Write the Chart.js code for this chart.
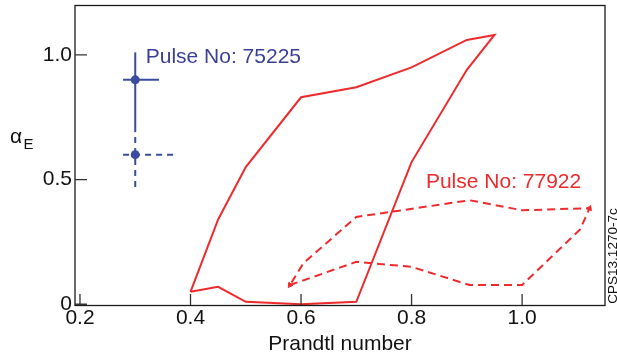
<!DOCTYPE html>
<html><head><meta charset="utf-8">
<script src="https://cdn.jsdelivr.net/npm/chart.js@4"></script>
<style>html,body{margin:0;padding:0;background:#fff;overflow:hidden}</style>
</head><body>
<canvas id="c" width="617" height="363"></canvas>
<script>
// ---- data ----
const xTicks = [0.2, 0.4, 0.6, 0.8, 1.0];
const yTicks = [0, 0.5, 1.0];
// Pulse No: 77922, solid loop
const solidX = [0.40, 0.45, 0.50, 0.60, 0.70, 0.80, 0.90, 0.95, 0.90, 0.80, 0.70, 0.60, 0.50, 0.45, 0.40];
const solidY = [0.05, 0.07, 0.01, 0.00, 0.01, 0.57, 0.94, 1.08, 1.06, 0.95, 0.87, 0.83, 0.55, 0.34, 0.05];
// Pulse No: 77922, dashed loop
const dashedX = [0.58, 0.70, 0.80, 0.905, 1.00, 1.105, 1.122, 1.00, 0.905, 0.70, 0.604, 0.58];
const dashedY = [0.077, 0.17, 0.15, 0.077, 0.077, 0.30, 0.385, 0.377, 0.417, 0.35, 0.164, 0.077];
// Pulse No: 75225, points with error bars (solid, dashed)
const blueX = [0.3, 0.3];
const blueY = [0.9, 0.6];
const blueXLow = [0.278, 0.278];
const blueXHigh = [0.343, 0.374];
const blueYLow = [0.69, 0.47];
const blueYHigh = [1.01, 0.685];

const RED = '#ee2a2d';
const BLUE = '#3a4c9e';
const FONT = '"Liberation Sans", Arial, Helvetica, sans-serif';

const pts = (xs, ys) => xs.map((x, i) => ({x, y: ys[i]}));
const lineDs = (data, color, dash, extra) => Object.assign({
  data, showLine: true, borderColor: color, backgroundColor: color,
  borderWidth: 2, borderDash: dash, pointRadius: 0, tension: 0, clip: false
}, extra || {});

const datasets = [];
datasets.push(lineDs(pts(solidX, solidY), RED, []));
const arrowR = dashedX.map((_, i) => (i === 6 || i === dashedX.length - 1) ? 3 : 0);
const arrowRot = dashedX.map((_, i) => i === 6 ? 21 : (i === dashedX.length - 1 ? 215 : 0));
datasets.push(lineDs(pts(dashedX, dashedY), RED, [8, 5], {
  pointRadius: arrowR, pointStyle: 'triangle', pointRotation: arrowRot, pointBorderWidth: 1
}));
blueX.forEach((bx, i) => {
  const dash = i === 0 ? [] : [6, 5];
  datasets.push(lineDs([{x: bx, y: blueYLow[i]}, {x: bx, y: blueYHigh[i]}], BLUE, dash));
  datasets.push(lineDs([{x: blueXLow[i], y: blueY[i]}, {x: blueXHigh[i], y: blueY[i]}], BLUE, dash));
});
datasets.push({data: pts(blueX, blueY), showLine: false, pointRadius: 4.5, pointBackgroundColor: BLUE,
  pointBorderColor: BLUE, pointBorderWidth: 0, clip: false});

const deco = {
  id: 'deco',
  afterDraw(chart) {
    const {ctx, chartArea: a, scales: {x, y}} = chart;
    ctx.save();
    // frame
    ctx.strokeStyle = '#1a1a1a';
    ctx.lineWidth = 1.3;
    ctx.strokeRect(a.left, a.top + 0.5, a.right - a.left, a.bottom - a.top);
    // inward ticks
    ctx.strokeStyle = '#333';
    ctx.lineWidth = 1.3;
    ctx.beginPath();
    xTicks.forEach(v => { const p = x.getPixelForValue(v); ctx.moveTo(p, a.bottom); ctx.lineTo(p, a.bottom - 11); });
    yTicks.forEach(v => { const p = y.getPixelForValue(v); ctx.moveTo(a.left, p); ctx.lineTo(a.left + 12, p); });
    ctx.stroke();
    // annotations
    ctx.textBaseline = 'middle';
    ctx.textAlign = 'left';
    ctx.font = '21px ' + FONT;
    ctx.fillStyle = '#3a3f96';
    ctx.fillText('Pulse No: 75225', x.getPixelForValue(0.319), y.getPixelForValue(0.99));
    ctx.fillStyle = RED;
    ctx.fillText('Pulse No: 77922', x.getPixelForValue(0.826), y.getPixelForValue(0.49));
    // y title alpha_E
    ctx.fillStyle = '#111';
    ctx.textBaseline = 'alphabetic';
    ctx.font = '21px ' + FONT;
    ctx.fillText('\u03b1', 10, 143);
    ctx.font = '15px ' + FONT;
    ctx.fillText('E', 23.5, 149);
    // figure code
    ctx.translate(613, 256);
    ctx.rotate(-Math.PI / 2);
    ctx.textAlign = 'center';
    ctx.textBaseline = 'middle';
    ctx.font = '13.5px ' + FONT;
    ctx.fillText('CPS13.1270-7c', 0, 0);
    ctx.restore();
  }
};

new Chart(document.getElementById('c'), {
  type: 'scatter',
  data: {datasets},
  options: {
    responsive: false, animation: false, devicePixelRatio: 1,
    layout: {padding: {left: 0, right: 12, top: 4, bottom: 0}},
    plugins: {legend: {display: false}, tooltip: {enabled: false}},
    scales: {
      x: {
        type: 'linear', min: 0.191, max: 1.15,
        afterFit(s) { s.height = 58; s.paddingLeft = 0; s.paddingRight = 0; },
        afterBuildTicks(s) { s.ticks = xTicks.map(v => ({value: v})); },
        grid: {display: false, drawTicks: false}, border: {display: false},
        ticks: {padding: 1, color: '#111', font: {size: 21, family: FONT}, maxRotation: 0, autoSkip: false,
          callback: v => v.toFixed(1)},
        title: {display: true, text: 'Prandtl number', color: '#111', font: {size: 21, family: FONT},
          padding: {top: 0, bottom: 6}}
      },
      y: {
        type: 'linear', min: -0.003, max: 1.2,
        afterFit(s) { s.width = 75; s.paddingTop = 0; s.paddingBottom = 0; },
        afterBuildTicks(s) { s.ticks = yTicks.map(v => ({value: v})); },
        grid: {display: false, drawTicks: false}, border: {display: false},
        ticks: {padding: 3, color: '#111', font: {size: 21, family: FONT}, autoSkip: false,
          callback: v => v === 0 ? '0' : v.toFixed(1)}
      }
    }
  },
  plugins: [deco]
});
</script>
</body></html>
